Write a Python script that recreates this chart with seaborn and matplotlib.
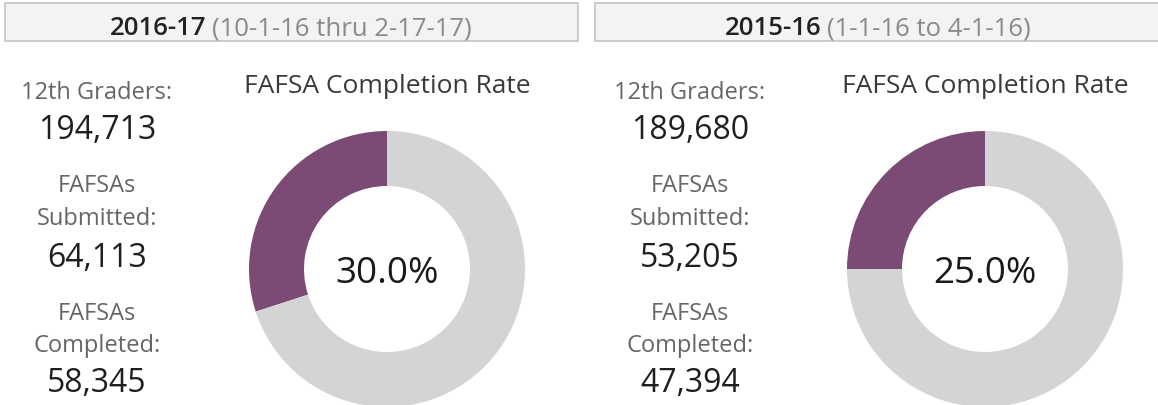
import matplotlib
matplotlib.use("Agg")
import matplotlib.pyplot as plt
from matplotlib.patches import Rectangle
import seaborn as sns

# ── data ─────────────────────────────────────────────────────
years     = ["2016-17", "2015-16"]
periods   = ["(10-1-16 thru 2-17-17)", "(1-1-16 to 4-1-16)"]
graders   = [194713, 189680]
submitted = [64113, 53205]
completed = [58345, 47394]
rates     = [30.0, 25.0]

PURPLE = "#7b4b76"
GREY   = "#d4d4d4"
FONT   = ["Open Sans", "DejaVu Sans"]

sns.set_theme(style="white")
plt.rcParams["font.family"] = FONT

W, H = 1158, 406
fig = plt.figure(figsize=(W / 100, H / 100), dpi=100)
bg = fig.add_axes([0, 0, 1, 1])
bg.set_xlim(0, W)
bg.set_ylim(H, 0)
bg.axis("off")

panel_x0   = [0, 595]          # left edge of each panel
box_w      = [573, 570]
stats_cx   = [97, 690]
donut_cx   = [387, 985]
donut_cy   = 270
R_OUT, R_IN = 138, 83

for i in range(2):
    x0 = panel_x0[i] + (5 if i == 0 else 0)
    bg.add_patch(Rectangle((x0, 4), box_w[i], 38, facecolor="#f3f3f3",
                           edgecolor="#c4c4c4", linewidth=1.2))
    hx = [110, 725][i]
    t1 = bg.text(hx, 35, years[i], fontsize=18.5, color="#222222",
                 fontweight="semibold", ha="left", va="baseline")
    bg.annotate(periods[i], xy=(1, 0), xycoords=t1, xytext=(4, 0),
                textcoords="offset points", fontsize=18.5, color="#8a8a8a",
                ha="left", va="bottom")

    cx = stats_cx[i]
    lab = dict(fontsize=17, color="#666666", ha="center", va="baseline")
    num = dict(fontsize=23, color="#1f1f1f", ha="center", va="baseline")
    bg.text(cx, 99, "12th Graders:", **lab)
    bg.text(cx, 139, f"{graders[i]:,}", **num)
    bg.text(cx, 192, "FAFSAs", **lab)
    bg.text(cx, 225, "Submitted:", **lab)
    bg.text(cx, 267, f"{submitted[i]:,}", **num)
    bg.text(cx, 320, "FAFSAs", **lab)
    bg.text(cx, 352, "Completed:", **lab)
    bg.text(cx, 392, f"{completed[i]:,}", **num)

    bg.text(donut_cx[i], 93, "FAFSA Completion Rate", fontsize=19,
            color="#3a3a3a", ha="center", va="baseline")

    # donut
    ax = fig.add_axes([(donut_cx[i] - R_OUT) / W,
                       (H - donut_cy - R_OUT) / H,
                       2 * R_OUT / W, 2 * R_OUT / H])
    ax.pie([rates[i], 100 - rates[i]], colors=[PURPLE, GREY],
           startangle=90, counterclock=True, radius=1,
           wedgeprops=dict(width=1 - R_IN / R_OUT, linewidth=0))
    ax.set_xlim(-1, 1)
    ax.set_ylim(-1, 1)
    ax.set_aspect("equal")
    ax.axis("off")
    bg.text(donut_cx[i], 283, f"{rates[i]:.1f}%", fontsize=26.5,
            color="#1a1a1a", ha="center", va="baseline")

fig.savefig("out.png", dpi=100)
